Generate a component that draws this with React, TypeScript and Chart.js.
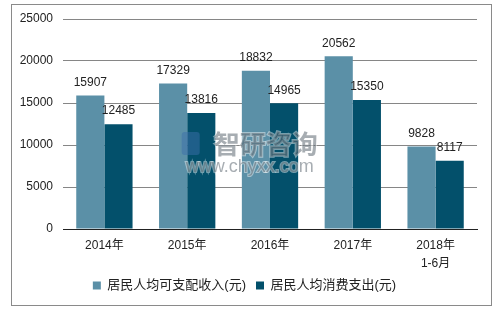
import React, { useEffect, useRef } from "react";
import { Chart, registerables } from "chart.js";

Chart.register(...registerables);

const categories: (string | string[])[] = ["2014年", "2015年", "2016年", "2017年", ["2018年", "1-6月"]];
const incomeLabel = "居民人均可支配收入(元)";
const spendLabel = "居民人均消费支出(元)";
const incomeValues = [15907, 17329, 18832, 20562, 9828];
const spendValues = [12485, 13816, 14965, 15350, 8117];
const yTicks = [0, 5000, 10000, 15000, 20000, 25000];
const watermarkTitle = "智研咨询";
const watermarkUrl = "www.chyxx.com";

const FONT = "'Liberation Sans', Arial, 'Noto Sans CJK SC', sans-serif";

const framePlugin = {
  id: "frame",
  beforeDraw(chart: any) {
    const ctx = chart.ctx;
    ctx.save();
    ctx.fillStyle = "#ffffff";
    ctx.fillRect(0, 0, chart.width, chart.height);
    ctx.strokeStyle = "#8a8a8a";
    ctx.lineWidth = 1;
    ctx.strokeRect(11.5, 4.5, 480, 301);
    ctx.restore();
  },
};

const labelPlugin = {
  id: "valueLabels",
  afterDatasetsDraw(chart: any) {
    const ctx = chart.ctx;
    const area = chart.chartArea;
    // watermark
    ctx.save();
    const cx = area.left + (area.right - area.left) * 0.48;
    ctx.fillStyle = "rgba(60,110,170,0.5)";
    ctx.beginPath();
    ctx.roundRect(cx - 80, 132, 18, 23, 3);
    ctx.fill();
    ctx.font = "bold 26px 'Noto Sans CJK SC', sans-serif";
    ctx.textAlign = "center";
    ctx.textBaseline = "middle";
    ctx.lineWidth = 2;
    ctx.strokeStyle = "rgba(255,255,255,0.45)";
    ctx.strokeText(watermarkTitle, cx + 4, 144);
    ctx.fillStyle = "rgba(95,105,115,0.55)";
    ctx.fillText(watermarkTitle, cx + 4, 144);
    ctx.font = "18px " + FONT;
    ctx.strokeText(watermarkUrl, cx - 12, 167, 136);
    ctx.fillText(watermarkUrl, cx - 12, 167, 136);
    ctx.restore();

    ctx.save();
    ctx.font = "12px " + FONT;
    ctx.fillStyle = "#222222";
    ctx.textAlign = "center";
    ctx.textBaseline = "middle";
    chart.data.datasets.forEach((ds: any, i: number) => {
      const meta = chart.getDatasetMeta(i);
      meta.data.forEach((bar: any, j: number) => {
        ctx.fillText(String(ds.data[j]), bar.x, bar.y - 13);
      });
    });
    ctx.restore();
  },
};

export default function App() {
  const ref = useRef<HTMLCanvasElement>(null);
  useEffect(() => {
    if (!ref.current) return;
    const chart = new Chart(ref.current, {
      type: "bar",
      data: {
        labels: categories,
        datasets: [
          {
            label: incomeLabel,
            data: incomeValues,
            backgroundColor: "#5b90a7",
            barPercentage: 1,
            categoryPercentage: 0.68,
          },
          {
            label: spendLabel,
            data: spendValues,
            backgroundColor: "#03506b",
            barPercentage: 1,
            categoryPercentage: 0.68,
          },
        ],
      },
      options: {
        responsive: false,
        animation: false,
        layout: { padding: { left: 12, right: 22, top: 19, bottom: 8 } },
        plugins: {
          legend: {
            position: "bottom",
            labels: {
              boxWidth: 8,
              boxHeight: 8,
              padding: 10,
              color: "#222222",
              font: { size: 13, family: FONT },
            },
          },
          tooltip: { enabled: false },
        },
        scales: {
          x: {
            grid: { display: false, drawTicks: false },
            border: { display: true, color: "#222222", width: 1 },
            ticks: {
              color: "#222222",
              padding: 8,
              maxRotation: 0,
              font: { size: 12, family: FONT, lineHeight: 1.5 },
            },
            afterFit(scale: any) {
              scale.height = 40;
            },
          },
          y: {
            min: 0,
            max: 25000,
            afterBuildTicks(scale: any) {
              scale.ticks = yTicks.map((v) => ({ value: v }));
            },
            grid: { color: "#868686", drawTicks: false },
            border: { display: false },
            ticks: {
              color: "#222222",
              padding: 10,
              font: { size: 12, family: FONT },
              callback: (v: any) => String(v),
            },
            afterFit(scale: any) {
              scale.width = 51;
            },
          },
        },
      },
      plugins: [framePlugin, labelPlugin],
    });
    return () => chart.destroy();
  }, []);
  return (
    <div style={{ position: "absolute", left: 0, top: 0, width: 499, height: 310 }}>
      <canvas ref={ref} width={499} height={310} />
    </div>
  );
}
